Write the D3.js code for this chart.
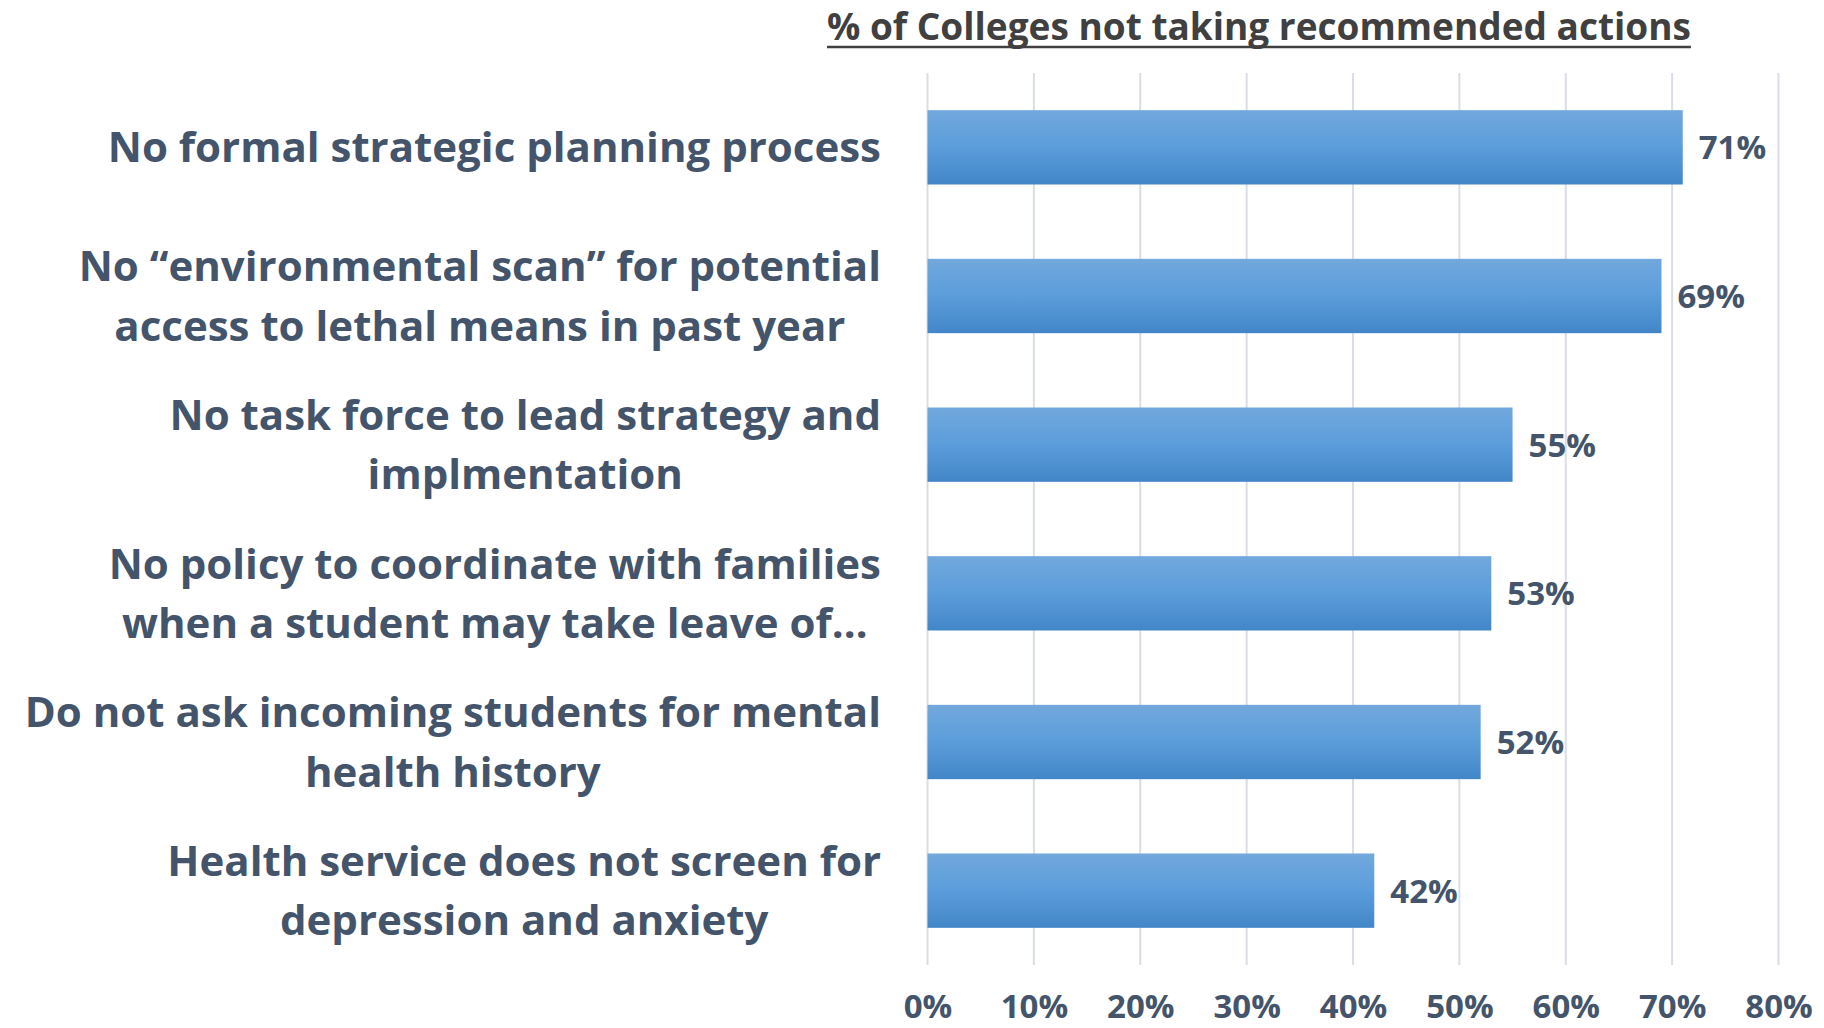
<!DOCTYPE html>
<html>
<head>
<meta charset="utf-8">
<script src="https://cdn.jsdelivr.net/npm/d3@7"></script>
<style>
  html, body { margin: 0; padding: 0; background: #ffffff; }
  svg { display: block; }
  text { font-family: "Open Sans", Lato, sans-serif; font-weight: 700; }
</style>
</head>
<body>
<svg id="chart" width="1824" height="1028"></svg>
<script>
// ---- data ----
const title = "% of Colleges not taking recommended actions";
const categories = [
  ["No formal strategic planning process"],
  ["No \u201Cenvironmental scan\u201D for potential", "access to lethal means in past year"],
  ["No task force to lead strategy and", "implmentation"],
  ["No policy to coordinate with families", "when a student may take leave of\u2026"],
  ["Do not ask incoming students for mental", "health history"],
  ["Health service does not screen for", "depression and anxiety"]
];
const values = [0.71, 0.69, 0.55, 0.53, 0.52, 0.42];
const valueLabels = ["71%", "69%", "55%", "53%", "52%", "42%"];
const tickValues = [0, 0.1, 0.2, 0.3, 0.4, 0.5, 0.6, 0.7, 0.8];
const tickLabels = ["0%", "10%", "20%", "30%", "40%", "50%", "60%", "70%", "80%"];

// ---- layout ----
const svg = d3.select("#chart");
const textColor = "#44546A";
const plot = { left: 927.5, right: 1778.5, top: 73, bottom: 965 };
const ids = categories.map((c, i) => "c" + i);

const x = d3.scaleLinear().domain([0, 0.8]).range([plot.left, plot.right]);
const y = d3.scaleBand().domain(ids).range([plot.top, plot.bottom])
  .paddingInner(0.5).paddingOuter(0.25);

// gradient
const defs = svg.append("defs");
const grad = defs.append("linearGradient").attr("id", "barGrad")
  .attr("x1", 0).attr("y1", 0).attr("x2", 0).attr("y2", 1);
grad.append("stop").attr("offset", "0%").attr("stop-color", "#72A8DD");
grad.append("stop").attr("offset", "50%").attr("stop-color", "#5B9DDB");
grad.append("stop").attr("offset", "100%").attr("stop-color", "#4386C8");

// gridlines
svg.append("g").selectAll("line").data(tickValues).join("line")
  .attr("x1", d => x(d)).attr("x2", d => x(d))
  .attr("y1", plot.top).attr("y2", plot.bottom)
  .attr("stroke", "#D9DEE6").attr("stroke-width", 2);

// bars
svg.append("g").selectAll("rect").data(values).join("rect")
  .attr("x", x(0))
  .attr("y", (d, i) => y(ids[i]))
  .attr("width", d => x(d) - x(0))
  .attr("height", y.bandwidth())
  .attr("fill", "url(#barGrad)");

// value labels
const capV = 24;
svg.append("g").selectAll("text").data(values).join("text")
  .attr("x", d => x(d) + 16)
  .attr("y", (d, i) => y(ids[i]) + y.bandwidth() / 2 + capV / 2)
  .attr("font-size", 33)
  .attr("fill", textColor)
  .text((d, i) => valueLabels[i]);

// x axis (bottom labels only)
const xAxis = d3.axisBottom(x).tickValues(tickValues)
  .tickFormat((d, i) => tickLabels[i]).tickSize(0).tickPadding(0);
const ax = svg.append("g").attr("transform", `translate(0, 1018)`).call(xAxis);
ax.select(".domain").remove();
ax.selectAll("text")
  .attr("dy", 0).attr("y", 0)
  .attr("font-size", 33)
  .attr("font-family", "'Open Sans', Lato, sans-serif")
  .attr("font-weight", 700)
  .attr("fill", textColor);

// category labels (centered lines, block right-aligned)
const labelRight = 881;
const lineGap = 59.5;
const capL = 30;
const lg = svg.append("g");
categories.forEach((lines, i) => {
  const cy = y(ids[i]) + y.bandwidth() / 2;
  const g = lg.append("g");
  const texts = lines.map((ln, j) => g.append("text")
    .attr("font-size", 42)
    .attr("fill", textColor)
    .attr("text-anchor", "middle")
    .attr("y", cy + (j - (lines.length - 1) / 2) * lineGap + capL / 2)
    .text(ln));
  const maxW = d3.max(texts, t => t.node().getComputedTextLength());
  texts.forEach(t => t.attr("x", labelRight - maxW / 2));
});

// title
const t = svg.append("text")
  .attr("x", 827).attr("y", 40)
  .attr("font-size", 37)
  .attr("fill", "#404040")
  .text(title);
const tw = t.node().getComputedTextLength();
svg.append("line").attr("x1", 827).attr("x2", 827 + tw)
  .attr("y1", 47).attr("y2", 47)
  .attr("stroke", "#404040").attr("stroke-width", 2.5);
</script>
</body>
</html>
